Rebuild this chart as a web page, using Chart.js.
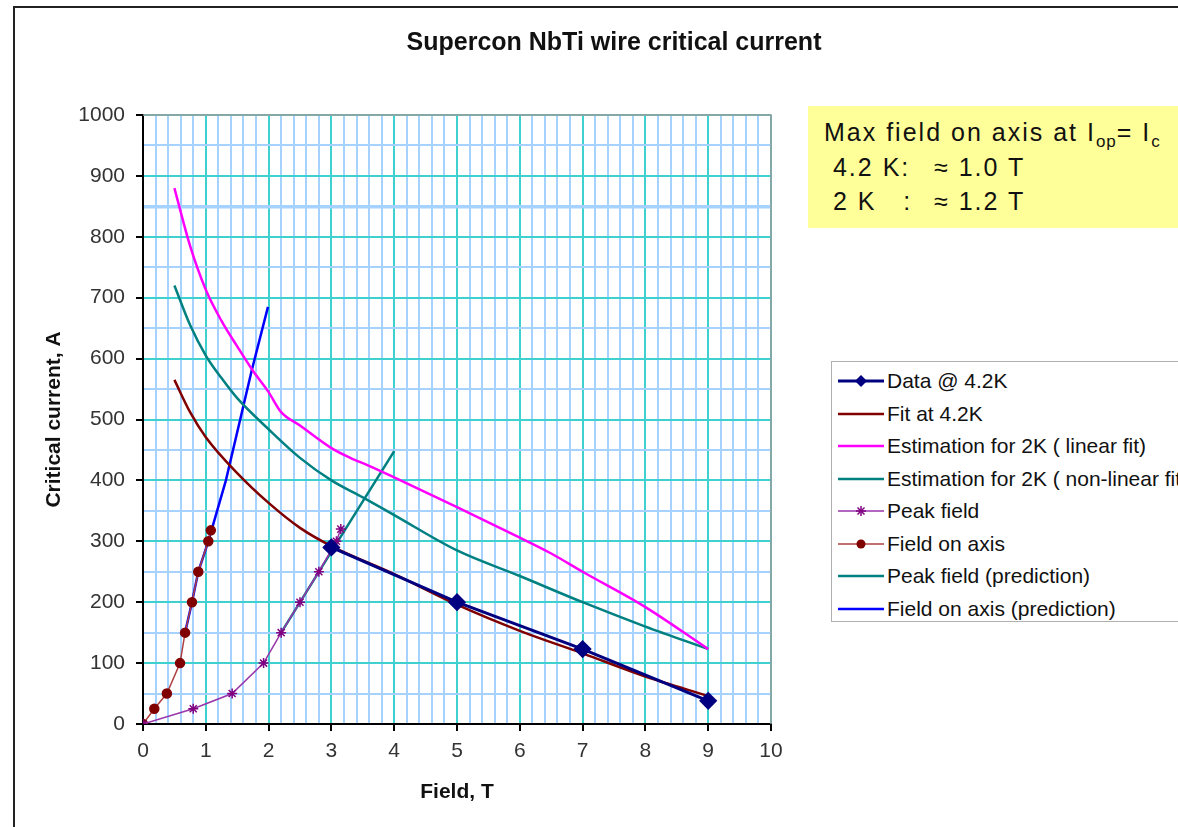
<!DOCTYPE html>
<html>
<head>
<meta charset="utf-8">
<title>Supercon NbTi wire critical current</title>
<script src="https://cdn.jsdelivr.net/npm/chart.js@4.4.1/dist/chart.umd.min.js"></script>
<style>
  html, body { margin: 0; padding: 0; background: #fff; overflow: hidden; }
  body { width: 1178px; height: 827px; position: relative; font-family: Arial, "Liberation Sans", sans-serif; }
  #frame { position: absolute; left: 13px; top: 6px; width: 1200px; height: 900px; border-left: 2px solid #222; border-top: 2px solid #222; }
  #chart { position: absolute; left: 0; top: 0; }
  #title { position: absolute; left: 314px; width: 600px; top: 27px; text-align: center; font-size: 25px; font-weight: bold; color: #111; }
  #note { position: absolute; left: 808px; top: 106px; width: 400px; height: 122px; background: #ffff99;
          font-size: 25px; line-height: 34.5px; letter-spacing: 2px; color: #111; padding: 9px 0 0 16px; box-sizing: border-box; white-space: pre; }
  #note sub { font-size: 17px; vertical-align: -6px; line-height: 0; letter-spacing: 1px; }
  #note .c1 { display: inline-block; width: 110px; }
  #legend { position: absolute; left: 831px; top: 361px; width: 400px; height: 261px; border: 1px solid #b0b0b0;
            box-sizing: border-box; padding-top: 3px; background: #fff; }
  #legend .row { height: 32.5px; display: flex; align-items: center; font-size: 21px; color: #111; white-space: nowrap; }
  #legend svg { margin: 0 3px 0 6px; flex: none; }
</style>
</head>
<body>
<div id="frame"></div>
<canvas id="chart" width="1178" height="827"></canvas>
<div id="title">Supercon NbTi wire critical current</div>
<div id="note">Max field on axis at I<sub>op</sub>= I<sub>c</sub>
<span class="c1"> 4.2 K:</span>≈ 1.0 T
<span class="c1"> 2 K   :</span>≈ 1.2 T</div>
<div id="legend"></div>
<script>
// --- data (field in T, current in A) ---
const data42Field = [3, 5, 7, 9];
const data42Current = [290, 200, 123, 38];

const fit42Field = [0.5, 0.75, 1, 1.5, 2, 2.5, 3, 4, 5, 6, 7, 8, 9];
const fit42Current = [565, 512, 471, 412, 363, 322, 292, 246, 196, 153, 116, 78, 46];

const est2KLinField = [0.5, 0.75, 1, 1.25, 1.5, 1.75, 2, 2.2, 2.5, 3, 3.3, 3.6, 4, 5, 6, 6.5, 7, 8, 9];
const est2KLinCurrent = [880, 785, 713, 662, 620, 580, 545, 512, 490, 453, 437, 424, 405, 356, 306, 280, 250, 192, 123];

const est2KNonLinField = [0.5, 0.75, 1, 1.25, 1.5, 2, 2.5, 3, 3.5, 4, 5, 6, 7, 8, 9];
const est2KNonLinCurrent = [720, 655, 605, 568, 535, 484, 437, 400, 372, 343, 285, 243, 200, 160, 123];

const peakField = [0, 0.8, 1.42, 1.92, 2.2, 2.5, 2.8, 3.08, 3.15];
const peakCurrent = [0, 25, 50, 100, 150, 200, 250, 300, 320];

const axisField = [0, 0.18, 0.38, 0.59, 0.67, 0.78, 0.88, 1.04, 1.08];
const axisCurrent = [0, 25, 50, 100, 150, 200, 250, 300, 318];

const peakPredField = [2.2, 3, 4];
const peakPredCurrent = [150, 283, 448];

const axisPredField = [0.67, 0.78, 0.88, 1.04, 1.32, 1.73, 1.99];
const axisPredCurrent = [150, 200, 250, 300, 400, 580, 685];

const xTicks = [0, 1, 2, 3, 4, 5, 6, 7, 8, 9, 10];
const yTicks = [0, 100, 200, 300, 400, 500, 600, 700, 800, 900, 1000];

const pts = (xs, ys) => xs.map((x, i) => ({ x: x, y: ys[i] }));

const datasets = [
  { label: "Data @ 4.2K", data: pts(data42Field, data42Current), borderColor: "#000080", backgroundColor: "#000080",
    borderWidth: 3, pointStyle: "rectRot", pointRadius: 7, marker: "diamond" },
  { label: "Fit at 4.2K", data: pts(fit42Field, fit42Current), borderColor: "#800000", borderWidth: 2.5,
    pointRadius: 0, cubicInterpolationMode: "monotone" },
  { label: "Estimation for 2K ( linear fit)", data: pts(est2KLinField, est2KLinCurrent), borderColor: "#ff00ff",
    borderWidth: 2.5, pointRadius: 0, cubicInterpolationMode: "monotone" },
  { label: "Estimation for 2K ( non-linear fit)", data: pts(est2KNonLinField, est2KNonLinCurrent), borderColor: "#008080",
    borderWidth: 2.5, pointRadius: 0, cubicInterpolationMode: "monotone" },
  { label: "Peak field", data: pts(peakField, peakCurrent), borderColor: "#9933aa", backgroundColor: "#800080",
    pointBorderColor: "#800080", borderWidth: 1.5, pointStyle: "star", pointRadius: 5, pointBorderWidth: 1.5, marker: "star" },
  { label: "Field on axis", data: pts(axisField, axisCurrent), borderColor: "#b04040", backgroundColor: "#800000",
    pointBorderColor: "#800000", borderWidth: 1.5, pointStyle: "circle", pointRadius: 4.5, marker: "circle" },
  { label: "Peak field (prediction)", data: pts(peakPredField, peakPredCurrent), borderColor: "#008080",
    borderWidth: 2.5, pointRadius: 0 },
  { label: "Field on axis (prediction)", data: pts(axisPredField, axisPredCurrent), borderColor: "#0000ff",
    borderWidth: 2.5, pointRadius: 0 },
];
datasets.forEach(d => { d.showLine = true; d.fill = false; });

const isOn = (v, list) => list.some(t => Math.abs(t - v) < 1e-6);

// grey frame on top and right of the plot area
const plotBorder = {
  id: "plotBorder",
  afterDatasetsDraw(chart) {
    const { ctx, chartArea: a } = chart;
    ctx.save();
    ctx.strokeStyle = "#9a9a9a";
    ctx.lineWidth = 1.5;
    ctx.beginPath();
    ctx.moveTo(a.left, a.top);
    ctx.lineTo(a.right, a.top);
    ctx.lineTo(a.right, a.bottom);
    ctx.stroke();
    ctx.restore();
  }
};

const tickFont = { family: "Arial, 'Liberation Sans'", size: 21 };
const axisTitleFont = { family: "Arial, 'Liberation Sans'", size: 21, weight: "bold" };

new Chart(document.getElementById("chart"), {
  type: "scatter",
  data: { datasets: datasets },
  plugins: [plotBorder],
  options: {
    responsive: false,
    animation: false,
    layout: { padding: { left: 30, right: 407, top: 115, bottom: 10 } },
    plugins: {
      legend: { display: false },
      tooltip: { enabled: false }
    },
    scales: {
      x: {
        type: "linear", min: 0, max: 10,
        afterFit: s => { s.height = 93; },
        ticks: {
          stepSize: 0.2, autoSkip: false, maxRotation: 0, padding: 8,
          color: "#333", font: tickFont,
          callback: v => isOn(v, xTicks) ? String(Math.round(v)) : ""
        },
        grid: {
          color: c => isOn(c.tick.value, xTicks) ? "#3fd0d0" : "#a6d2ff",
          lineWidth: 2, tickLength: 7,
          tickColor: c => isOn(c.tick.value, xTicks) ? "#000" : "rgba(0,0,0,0)"
        },
        border: { color: "#000", width: 2 },
        title: { display: true, text: "Field, T", color: "#111", padding: { top: 0, bottom: 12 }, font: axisTitleFont }
      },
      y: {
        type: "linear", min: 0, max: 1000,
        afterFit: s => { s.width = 113; },
        ticks: {
          stepSize: 50, autoSkip: false, padding: 11,
          color: "#333", font: tickFont,
          callback: v => isOn(v, yTicks) ? String(v) : ""
        },
        grid: {
          color: c => isOn(c.tick.value, yTicks) ? "#3fd0d0" : "#a6d2ff",
          lineWidth: c => c.tick.value === 850 ? 3.5 : 2, tickLength: 7,
          tickColor: c => isOn(c.tick.value, yTicks) ? "#000" : "rgba(0,0,0,0)"
        },
        border: { color: "#000", width: 2 },
        title: { display: true, text: "Critical current, A", color: "#111", padding: { top: 12, bottom: 0 }, font: axisTitleFont }
      }
    }
  }
});

// legend built from the datasets
const legendBox = document.getElementById("legend");
datasets.forEach(d => {
  let mk = "";
  if (d.marker === "diamond") mk = `<polygon points="23,1 29,7 23,13 17,7" fill="${d.backgroundColor}"/>`;
  if (d.marker === "circle") mk = `<circle cx="23" cy="7" r="4.5" fill="${d.backgroundColor}"/>`;
  if (d.marker === "star") mk = `<g stroke="${d.pointBorderColor}" stroke-width="1.5"><line x1="18" y1="7" x2="28" y2="7"/><line x1="23" y1="2" x2="23" y2="12"/><line x1="19.5" y1="3.5" x2="26.5" y2="10.5"/><line x1="19.5" y1="10.5" x2="26.5" y2="3.5"/></g>`;
  const row = document.createElement("div");
  row.className = "row";
  row.innerHTML = `<svg width="46" height="14"><line x1="0" y1="7" x2="46" y2="7" stroke="${d.borderColor}" stroke-width="${Math.min(d.borderWidth, 3)}"/>${mk}</svg><span></span>`;
  row.querySelector("span").textContent = d.label;
  legendBox.appendChild(row);
});
</script>
</body>
</html>
